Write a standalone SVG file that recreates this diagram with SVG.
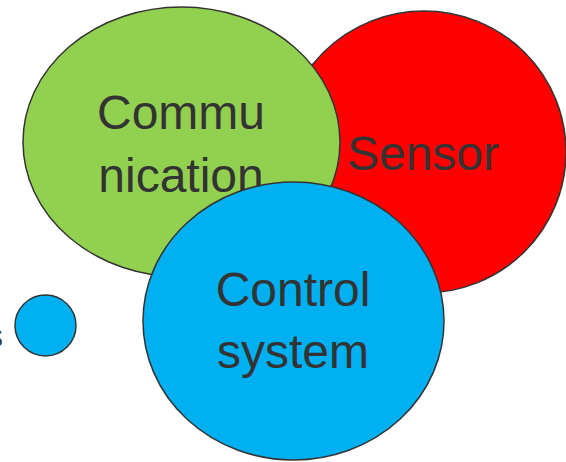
<svg xmlns="http://www.w3.org/2000/svg" width="566" height="462" viewBox="0 0 566 462">
<style>
.shape{stroke:#333333;stroke-width:1.5}
.lbl{font-family:"Liberation Sans",Arial,sans-serif;font-size:48px;fill:#333333;text-anchor:middle}
</style>
<rect width="566" height="462" fill="#ffffff"/>
<g id="sensor">
<ellipse class="shape" cx="424" cy="152" rx="142" ry="141" fill="#FF0000"/>
<text class="lbl" x="423" y="170">Sensor</text>
</g>
<g id="communication">
<ellipse class="shape" cx="181.5" cy="142" rx="158.5" ry="135" fill="#92D050"/>
<text class="lbl" x="181" y="129">Commu</text>
<text class="lbl" x="181" y="192">nication</text>
</g>
<g id="control-system">
<ellipse class="shape" cx="293.5" cy="321" rx="150.5" ry="139" fill="#00B0F0"/>
<text class="lbl" x="293" y="306">Control</text>
<text class="lbl" x="293" y="368">system</text>
</g>
<g id="small-node">
<circle class="shape" cx="45.5" cy="325.5" r="30.5" fill="#00B0F0"/>
<text x="3" y="347" style="font-family:'Liberation Sans',Arial,sans-serif;font-size:34px;fill:#333333;text-anchor:end">s</text>
</g>
<g id="connectors"></g>
</svg>
